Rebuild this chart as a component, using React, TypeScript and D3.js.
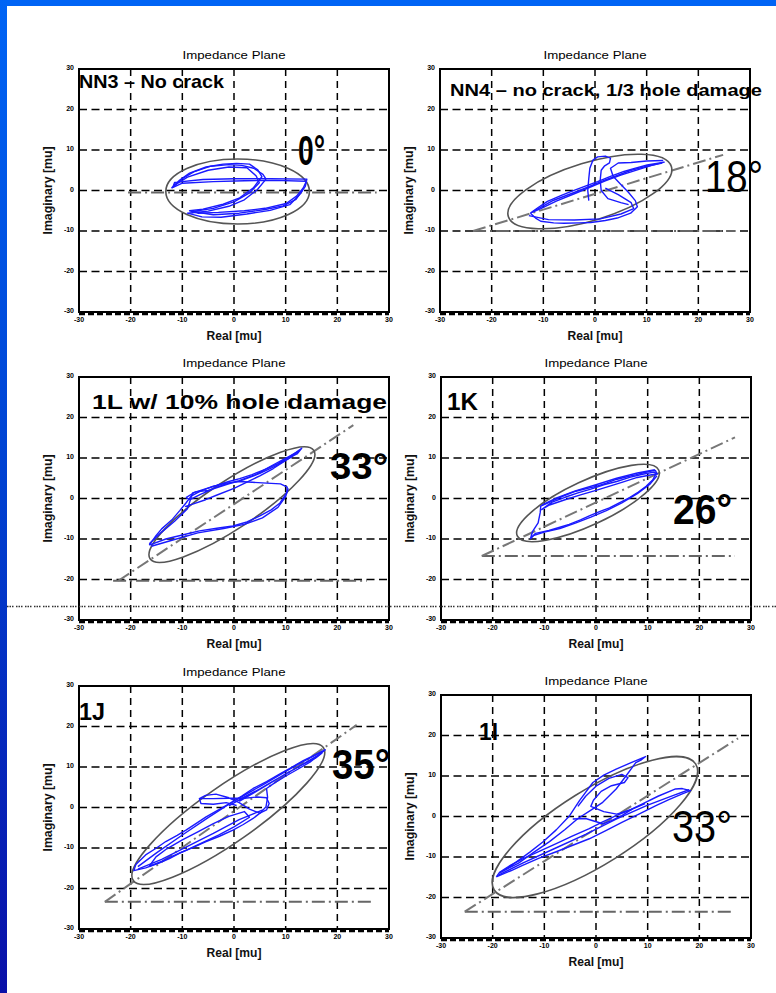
import React from "react";
import * as d3 from "d3";

type Pt = [number, number];

// ---------- axis ticks ----------
const tickValues = [-30, -20, -10, 0, 10, 20, 30];
const gridValues = [-20, -10, 0, 10, 20];

// ---------- panel labels ----------
const sampleLabels = ["NN3 – No crack", "NN4 – no crack, 1/3 hole damage", "1L w/ 10% hole damage", "1K", "1J", "1I"];
const angleLabels = ["0°", "18°", "33°", "26°", "35°", "33°"];

// ---------- traces (Real, Imaginary) ----------
const nn3Trace1: Pt[] = [[-12.1,0.6],[-10.5,2.6],[-8.6,4.3],[-5.4,5.8],[-2.1,6.5],[0.5,6.7],[3,6.5],[4.6,5.1],[5.4,3.4],[3.7,0.6],[1.1,-1.8],[-2.1,-3.4],[-6,-4.6],[-8.6,-5.0],[-7,-5.6],[-3,-5.4],[2,-5.0],[6,-4.4],[10.1,-3.2],[12.1,-1.4],[13.4,0.6],[14,2.3],[8,2.5],[2,2.4],[-4,2.2],[-10,1.8],[-12.1,0.6]];
const nn3Trace2: Pt[] = [[-11.8,0.9],[-10,2.9],[-7.8,4.6],[-4.5,6.0],[-1.0,6.4],[1.5,6.2],[3.8,5.5],[5.6,4.0],[6.2,2.8],[4.5,0.2],[2,-2.3],[-1,-3.9],[-5,-5.1],[-9,-5.6],[-6.2,-6.5],[-2.5,-6.6],[2.5,-5.8],[7,-4.9],[10.8,-3.5],[12.7,-1.0],[13.8,1.0],[14.1,2.8],[7,2.9],[0,2.9],[-6,2.7],[-11.5,2.0],[-11.8,0.9]];
const nn3Trace3: Pt[] = [[-11.5,1.3],[-9,3.3],[-5,5.0],[-1,5.8],[2.5,5.6],[4.3,3.6],[4.9,1.9],[3,-0.6],[0,-2.8],[-4,-4.4],[-8,-5.2],[-4,-6.0],[1,-5.6],[6,-4.7],[9.5,-3.8],[12,-2.2],[13.2,0]];

const nn4Trace1: Pt[] = [[-12.5,-5.6],[-11,-4.2],[-9.2,-2.7],[-6.5,-1.2],[-4.7,-0.3],[-2,1],[0.5,2.2],[3,3.5],[5.6,4.7],[8,5.6],[10.1,6.3],[13.4,7.0],[11,6.2],[8.5,5.2],[5,3.8],[2,2.4],[-1,0.8],[-4,-0.8],[-7.5,-2.6],[-10.5,-4.5],[-12.5,-5.6]];
const nn4Trace2: Pt[] = [[-12.5,-5.6],[-11.5,-6.8],[-10.5,-7.6],[-8,-8.0],[-6,-8.1],[-3,-8.0],[-0.8,-7.9],[2,-7.4],[4.3,-6.8],[6.9,-5.6],[8.2,-4.0],[7.8,-2.5],[6.5,-0.5],[5,1.5],[3.5,3.5],[3,5.5],[4.5,6.8],[7,6.9],[10,7.3],[13.2,7.4]];
const nn4Trace3: Pt[] = [[-1.2,-2.5],[-1.4,0],[-1.2,3],[-1.0,5.5],[-0.4,7.5],[0.5,8.3],[2,8.5],[3,8.0],[2.8,6.8],[1.8,6.0],[1.2,5.0],[1.0,2.5],[1.2,0],[2.5,-2],[5,-3],[6.5,-3.5]];
const nn4Trace4: Pt[] = [[-12.8,-6.2],[-9,-7.2],[-4,-7.3],[1,-7.0],[5,-5.8],[7.5,-4.5],[7,-3],[4.5,-1],[2,0.6]];
const nn4Trace5: Pt[] = [[-12,-5.2],[-8,-2.4],[-3,0],[2,2.6],[7,5.0],[10,6.0],[13,6.8]];

const l1Trace1: Pt[] = [[-16.4,-11.5],[-13.2,-10],[-10,-9],[-6.7,-8],[-3,-7.3],[-0.2,-6.8],[2.5,-5.8],[5,-4.3],[7.2,-2.8],[8.9,-1.1],[10.2,1.4],[10.3,2.8],[9,3.6],[6.3,3.8],[3.5,4.0],[1.1,4.2],[-1.5,3.8],[-4.1,3.0],[-6.5,1.8],[-8.3,0.6],[-9.3,-1.1],[-10.5,-3],[-11.9,-5.1],[-14,-7.5],[-15.1,-9.2],[-16.4,-11.5]];
const l1Trace2: Pt[] = [[-16.4,-11.2],[-14,-8.3],[-11.5,-5.6],[-9,-2.5],[-8,1.4],[-6,2.2],[-3.4,3.2],[-1,4.2],[1.1,4.9],[3.5,5.9],[6.3,7.3],[8.5,8.6],[10.8,10.4],[12,11.4],[13.1,12.4],[12.2,11.0],[11.5,10.6],[9.5,9.0],[7.6,7.4],[5,5.6],[2.4,4.0],[0,2.5],[-3.4,0.8],[-5.5,-0.3],[-8,-1.4],[-9.5,-2.0]];
const l1Trace3: Pt[] = [[-9.3,0.2],[-7.5,1.6],[-5,2.0],[-2,3.4],[1,4.4],[4,5.8],[7,7.9],[9.5,9.6],[12.5,11.6],[11,10.2],[8,8.0],[5,6.2],[2,4.7],[-1,3.6],[-4,2.4],[-6.5,1.0],[-8.5,-0.3],[-9.3,0.2]];
const l1Trace4: Pt[] = [[-16,-11.8],[-12,-10.3],[-7,-8.5],[-2,-7.4],[2,-6.4],[5.5,-4.8],[8.5,-2.2],[10,0.5],[10.5,2.5]];

const k1Trace1: Pt[] = [[-12.7,-10],[-11.7,-8.6],[-9.1,-7.9],[-7,-7.1],[-5.2,-6.4],[-3,-5.3],[-1.3,-4.3],[0.8,-3.2],[2.6,-2.3],[4.5,-1.1],[6.5,0.2],[8.2,1.6],[9.7,3.0],[11,4.6],[11.7,6.4],[11.5,6.9],[10.7,6.8],[9,6.3],[7.8,5.9],[5.8,5.3],[3.9,4.7],[2,3.8],[0,3.0],[-2,2.4],[-3.9,1.8],[-6,0.8],[-7.8,-0.2],[-9.5,-1.2],[-10.7,-1.9],[-10.8,-3.5],[-11.2,-6],[-12.3,-8.2],[-12.7,-10]];
const k1Trace2: Pt[] = [[-10.6,-2.8],[-8.5,-0.9],[-6,0.3],[-3.5,1.4],[-1,2.3],[1.5,3.4],[4,4.2],[6.5,5.2],[9,6.0],[11.2,6.5],[11.9,6.1],[10.5,5.8],[8,5.2],[5,4.0],[2.5,3.0],[0,2.0],[-3,0.9],[-6,-0.3],[-9,-1.6],[-10.6,-2.8]];
const k1Trace3: Pt[] = [[-12.3,-9.2],[-10,-8.3],[-7,-7.4],[-4,-6.1],[-1,-4.6],[2,-3.0],[5,-1.1],[8,1.2],[10.5,3.6],[11.8,5.6]];
const k1Trace4: Pt[] = [[-10.4,-1.6],[-7.5,0.2],[-4,1.9],[0,3.4],[4,5.0],[8,6.3],[11.4,7.1]];

const j1Trace1: Pt[] = [[17.7,14.3],[14.7,11.2],[12,9.2],[10.2,7.9],[8,6.2],[6.3,4.7],[6.5,2.5],[6.2,0.2],[5.2,-1.2],[3.7,-2.7],[1.8,-4.2],[-0.2,-5.6],[-2.8,-7.1],[-5.4,-8.4],[-8,-9.9],[-10.6,-11.3],[-12.5,-12.6],[-14.5,-13.7],[-17.1,-14.9],[-19.4,-15.6],[-19,-14.1],[-17.1,-11.7],[-15,-10],[-13.2,-8.4],[-11,-6.9],[-9.3,-5.6],[-7.3,-3.9],[-5.4,-2.3],[-3,-0.6],[-0.8,1.0],[1.5,2.8],[3.7,4.7],[6.3,6.4],[8.9,8.3],[11,9.8],[13.4,11.6],[15.5,12.9],[17.7,14.3]];
const j1Trace2: Pt[] = [[-6.7,2.2],[-4,2.2],[-1,2.3],[2,2.3],[4.5,2.6],[6.3,2.4],[6.8,1.0],[6.3,-0.6],[5,-1.4],[3,-0.4],[1,1.2],[-1,2.4],[-3.5,3.3],[-5.5,3.0],[-6.7,2.2],[-6.4,1.0],[-4,0.8],[-1.5,1.2],[0.5,0.5]];
const j1Trace3: Pt[] = [[-16.4,-14.5],[-14,-13.3],[-11.9,-12.0],[-9,-10.4],[-6,-8.6],[-3,-6.8],[0,-4.8],[3,-2.4],[2,-1.0],[-1,-2.2],[-4,-4.0],[-7,-6.0],[-10,-8.0],[-13,-10.2],[-15.1,-12.2],[-16.4,-14.5]];
const j1Trace4: Pt[] = [[-1,0.4],[2,2.6],[5,4.6],[8,6.8],[11,9.0],[14,11.2],[17,13.4],[16,12.4],[13,10.4],[10,8.3],[7,6.0],[4,3.7],[1,1.5]];
const j1Trace5: Pt[] = [[-18.6,-15.2],[-14,-12.8],[-9,-9.6],[-4,-6.4],[1,-3.0],[5.6,-0.6]];
const j1Trace6: Pt[] = [[-18.6,-14.6],[-15,-11.2],[-10,-6.8],[-5,-2.5],[0,1.6],[6,5.9],[12,10.4],[17.2,13.9]];

const i1Trace1: Pt[] = [[-19.3,-14.9],[-16.5,-13.4],[-14.1,-12],[-11,-10.3],[-7.7,-8.7],[-4.5,-7.1],[-1.3,-5.5],[2,-3.4],[5.1,-1.4],[8.5,0.7],[11.6,2.7],[14,4.1],[16.7,5.6],[18.3,6.4],[16.7,6.9],[15.4,6.8],[12,5.0],[9,3.1],[6.5,1.6],[3.9,0.2],[1.2,-1.4],[-1.3,-3],[-4.5,-4.8],[-7.7,-6.7],[-11,-8.6],[-14.1,-10.4],[-16.5,-12.0],[-18.6,-13.7],[-19.3,-14.9]];
const i1Trace2: Pt[] = [[-18.6,-13.9],[-17,-12.6],[-15.4,-11.2],[-12.8,-8.8],[-10.3,-6.3],[-7.7,-3.3],[-5.1,0.2],[-3.2,3.9],[-0.6,8.4],[1.5,10.2],[3.9,11.7],[6.8,13.3],[9.6,14.8],[8.8,14],[7.7,13.3],[5.8,10],[3.9,6.8],[1.3,3.5],[-1.2,1.4],[-3.5,-0.5],[-6,-3.2],[-9,-6.2],[-12,-8.8],[-15,-11.5],[-18.6,-13.9]];
const i1Trace3: Pt[] = [[-3.5,2.5],[-2,5],[0,7.5],[2.5,9.4],[5,10.4],[6.2,9.6],[5.5,8.4],[3,7.6],[1,6.2],[-0.5,4],[-1,2.5],[1.5,1.2],[4,0.6],[7,1.8],[9.5,3.2]];
const i1Trace4: Pt[] = [[-4.5,-0.6],[-2,-0.5],[1.3,-1.8],[3,-1],[5,0.2],[7,1.8]];
const i1Trace5: Pt[] = [[-18.8,-14.4],[-14,-11.4],[-8,-7.9],[-2,-4.4],[4,-0.6],[10,2.8],[15,5.2],[18,6.6]];

const tracesByPanel: Pt[][][] = [
  [nn3Trace1, nn3Trace2, nn3Trace3],
  [nn4Trace1, nn4Trace2, nn4Trace3, nn4Trace4, nn4Trace5],
  [l1Trace1, l1Trace2, l1Trace3, l1Trace4],
  [k1Trace1, k1Trace2, k1Trace3, k1Trace4],
  [j1Trace1, j1Trace2, j1Trace3, j1Trace4, j1Trace5, j1Trace6],
  [i1Trace1, i1Trace2, i1Trace3, i1Trace4, i1Trace5],
];

// ---------- fitted ellipses: center (data), semi-axes (x-units), tilt (deg) ----------
const ellipseCx = [0.7, -1.0, -0.4, -1.55, -1.1, -0.2];
const ellipseCy = [-0.25, -0.25, -1.5, -1.1, -1.6, -2.6];
const ellipseA = [13.9, 16.5, 19.0, 15.1, 22.45, 23.0];
const ellipseB = [6.3, 5.6, 4.6, 4.3, 5.4, 7.2];
const ellipseTilt = [0, 17, 33.5, 25, 35, 32];

// ---------- phase-angle reference lines: [x1, y1, x2, y2] ----------
const angleLines: (number[] | null)[] = [
  null,
  [-23.6, -10, 24.8, 8.8],
  [-22.4, -20.3, 23.1, 18.1],
  [-22.1, -14.2, 26.9, 15.1],
  [-25, -23.3, 23.75, 20.4],
  [-25.4, -23.5, 27.5, 19.3],
];
const baseLines: number[][] = [
  [-20.5, -0.5, 27.6, -0.5],
  [-23.6, -10, 27.1, -10],
  [-23.4, -20.3, 25.7, -20.3],
  [-22.1, -14.2, 26.9, -14.2],
  [-25, -23.3, 27, -23.3],
  [-25.4, -23.5, 26.6, -23.5],
];

// ---------- layout ----------
const W = 776;
const H = 993;
const PW = 310;
const PH = 243;
const panelPos = [
  { left: 79, top: 69 },
  { left: 440, top: 69 },
  { left: 79, top: 377 },
  { left: 441, top: 377 },
  { left: 79, top: 686 },
  { left: 441, top: 695 },
];
const labelStyle = [
  { x: 79, y: 88, size: 19, len: 145, weight: 700 },
  { x: 450, y: 95.5, size: 17, len: 312, weight: 700 },
  { x: 92, y: 408.5, size: 21, len: 295, weight: 700 },
  { x: 447, y: 410, size: 23, len: 31, weight: 700 },
  { x: 79, y: 720, size: 23, len: 26, weight: 700 },
  { x: 479, y: 739.5, size: 24, len: 19, weight: 700 },
];
const angleStyle = [
  { x: 298, y: 165, size: 42, len: 27, weight: 700 },
  { x: 705, y: 192, size: 44, len: 58, weight: 400 },
  { x: 330, y: 478.5, size: 37, len: 58, weight: 700 },
  { x: 673, y: 523.5, size: 42, len: 59, weight: 700 },
  { x: 332, y: 778.5, size: 42, len: 58, weight: 700 },
  { x: 672, y: 842, size: 44, len: 60, weight: 400 },
];
const FONT = "'Liberation Sans', Arial, Helvetica, sans-serif";

function Panel({ i }: { i: number }) {
  const { left, top } = panelPos[i];
  const x = d3.scaleLinear().domain([-30, 30]).range([left, left + PW]);
  const y = d3.scaleLinear().domain([-30, 30]).range([top + PH, top]);
  const line = d3.line<Pt>().x((d) => x(d[0])).y((d) => y(d[1])).curve(d3.curveLinear);
  const cx = x(ellipseCx[i]);
  const cy = y(ellipseCy[i]);
  const rx = x(ellipseA[i]) - x(0);
  const ry = x(ellipseB[i]) - x(0);
  const midX = left + PW / 2;
  const midY = top + PH / 2;
  const al = angleLines[i];
  const bl = baseLines[i];
  return (
    <g>
      {gridValues.map((v) => (
        <line key={"gx" + v} x1={x(v)} x2={x(v)} y1={top} y2={top + PH} stroke="#000" strokeWidth={1.5} strokeDasharray="7,5" />
      ))}
      {gridValues.map((v) => (
        <line key={"gy" + v} x1={left} x2={left + PW} y1={y(v)} y2={y(v)} stroke="#000" strokeWidth={1.5} strokeDasharray="8,4.5" />
      ))}
      <rect x={left} y={top} width={PW} height={PH} fill="none" stroke="#000" strokeWidth={2} />
      <line x1={left} x2={left + PW} y1={top + PH + 2} y2={top + PH + 2} stroke="#000" strokeWidth={2.5} strokeDasharray="6,3" />
      {tickValues.map((v) => (
        <text key={"ty" + v} x={left - 5} y={y(v) + 1} fontSize={7} fontWeight={700} textAnchor="end" fontFamily={FONT} fill="#000">{v}</text>
      ))}
      {tickValues.map((v) => (
        <text key={"tx" + v} x={x(v)} y={top + PH + 10} fontSize={7} fontWeight={700} textAnchor="middle" fontFamily={FONT} fill="#000">{v}</text>
      ))}
      <text x={midX} y={top - 10} fontSize={11} textAnchor="middle" fontFamily={FONT} textLength={103} lengthAdjust="spacingAndGlyphs">Impedance Plane</text>
      <text x={midX} y={top + PH + 28} fontSize={12} fontWeight={700} textAnchor="middle" fontFamily={FONT} textLength={55} lengthAdjust="spacingAndGlyphs" fill="#111">Real [mu]</text>
      <text transform={`translate(${left - 27},${midY}) rotate(-90)`} fontSize={12} fontWeight={700} textAnchor="middle" fontFamily={FONT} textLength={88} lengthAdjust="spacingAndGlyphs" fill="#111">Imaginary [mu]</text>
      <line x1={x(bl[0])} y1={y(bl[1])} x2={x(bl[2])} y2={y(bl[3])} stroke="#666" strokeWidth={2} strokeDasharray="13,4,2,4" />
      {al && (
        <line x1={x(al[0])} y1={y(al[1])} x2={x(al[2])} y2={y(al[3])} stroke="#777" strokeWidth={2} strokeDasharray="13,4,2,4" />
      )}
      <ellipse cx={cx} cy={cy} rx={rx} ry={ry} fill="none" stroke="#555" strokeWidth={1.6} transform={`rotate(${-ellipseTilt[i]},${cx},${cy})`} />
      {tracesByPanel[i].map((t, k) => (
        <path key={"tr" + k} d={line(t) || ""} fill="none" stroke="#1a1aff" strokeWidth={1.4} strokeLinejoin="round" />
      ))}
      <text x={labelStyle[i].x} y={labelStyle[i].y} fontSize={labelStyle[i].size} fontWeight={labelStyle[i].weight} fontFamily={FONT} textLength={labelStyle[i].len} lengthAdjust="spacingAndGlyphs" fill="#000">{sampleLabels[i]}</text>
      <text x={angleStyle[i].x} y={angleStyle[i].y} fontSize={angleStyle[i].size} fontWeight={angleStyle[i].weight} fontFamily={FONT} textLength={angleStyle[i].len} lengthAdjust="spacingAndGlyphs" fill="#000">{angleLabels[i]}</text>
    </g>
  );
}

export default function App() {
  return (
    <div style={{ position: "absolute", left: 0, top: 0 }}>
      <svg width={W} height={H} viewBox={`0 0 ${W} ${H}`} style={{ display: "block" }}>
        <defs>
          <linearGradient id="sideBlue" x1="0" y1="0" x2="0" y2="1">
            <stop offset="0" stopColor="#0064f5" />
            <stop offset="0.5" stopColor="#0040d0" />
            <stop offset="1" stopColor="#0a10a8" />
          </linearGradient>
        </defs>
        <rect x={0} y={0} width={W} height={H} fill="#fff" />
        <rect x={0} y={0} width={W} height={6} fill="#0064f5" />
        <rect x={0} y={0} width={7} height={H} fill="url(#sideBlue)" />
        {panelPos.map((_, i) => (
          <Panel key={i} i={i} />
        ))}
        <line x1={7} x2={W} y1={606.5} y2={606.5} stroke="#333" strokeWidth={1.5} strokeDasharray="1.5,1,1.5,1,1.5,2.5" />
      </svg>
    </div>
  );
}
